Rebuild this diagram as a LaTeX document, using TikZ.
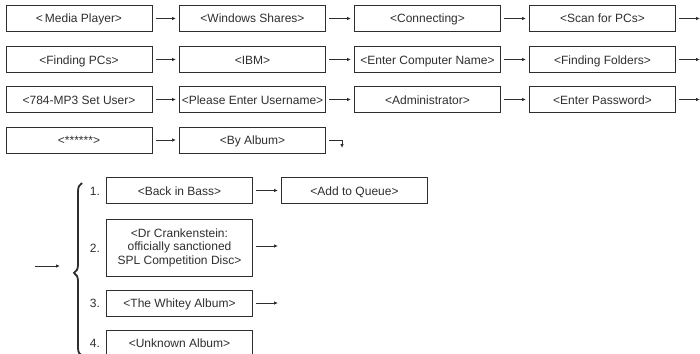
\documentclass[tikz,border=0pt]{standalone}
\usepackage{fontspec}
\setmainfont{Liberation Sans}
\usetikzlibrary{arrows.meta,decorations.pathreplacing}
\definecolor{ink}{HTML}{2E2E2E}
\begin{document}
\begin{tikzpicture}[x=1pt,y=-1pt,
  box/.style={draw=ink,line width=1pt,minimum width=146pt,minimum height=26pt,inner sep=1pt,text=ink,font=\fontsize{12}{13.5}\selectfont,align=center,text height=9pt,text depth=0pt},
  lbl/.style={text=ink,font=\fontsize{12}{13.5}\selectfont,inner sep=0pt,text height=9pt,text depth=0pt},
  arr/.style={draw=ink,line width=0.9pt,-{Latex[length=4pt,width=3.5pt]}}]
\useasboundingbox (0,0) rectangle (700,353);
\clip (0,0) rectangle (700,353);
% rows
\node[box] (a1) at (79,18.5) {<\,Media Player>};
\node[box] (a2) at (252.5,18.5) {<Windows Shares>};
\node[box] (a3) at (427.5,18.5) {<Connecting>};
\node[box] (a4) at (602.5,18.5) {<Scan for PCs>};
\node[box] (b1) at (79,59.5) {<Finding PCs>};
\node[box] (b2) at (252.5,59.5) {<IBM>};
\node[box] (b3) at (427.5,59.5) {<Enter Computer Name>};
\node[box] (b4) at (602.5,59.5) {<Finding Folders>};
\node[box] (c1) at (79,99.5) {<784-MP3 Set User>};
\node[box] (c2) at (252.5,99.5) {<Please Enter Username>};
\node[box] (c3) at (427.5,99.5) {<Administrator>};
\node[box] (c4) at (602.5,99.5) {<Enter Password>};
\node[box] (d1) at (79,140) {<******>};
\node[box] (d2) at (252.5,140) {<By Album>};
\coordinate (ae) at (700,18.5);
\coordinate (be) at (700,59.5);
\coordinate (ce) at (700,99.5);
\foreach \r in {a,b,c}{
  \draw[arr] ([xshift=3pt]\r1.east) -- ([xshift=-3pt]\r2.west);
  \draw[arr] ([xshift=3pt]\r2.east) -- ([xshift=-3pt]\r3.west);
  \draw[arr] ([xshift=3pt]\r3.east) -- ([xshift=-3pt]\r4.west);
  \draw[arr] ([xshift=3pt]\r4.east) -- (\r e);
}
\draw[arr] ([xshift=3pt]d1.east) -- ([xshift=-3pt]d2.west);
\coordinate (dh) at (342,148);
\draw[arr] ([xshift=3pt]d2.east) -| (dh);
% lower part
\coordinate (ls) at (35,266);
\coordinate (le) at (60,266);
\draw[arr] (ls) -- (le);
\coordinate (bt) at (82,183);
\coordinate (bb) at (82,356);
\draw[ink,line width=1.8pt,decorate,decoration={brace,amplitude=8pt,aspect=0.48}] (bb) -- (bt);
\node[box] (e1) at (179.5,190.5) {<Back in Bass>};
\node[box] (q1) at (354.5,190.5) {<Add to Queue>};
\node[box,minimum height=57pt,text height=,text depth=] (e2) at (179.5,247.5) {<Dr Crankenstein:\\officially sanctioned\\SPL Competition Disc>};
\node[box] (e3) at (179.5,303) {<The Whitey Album>};
\node[box] (e4) at (179.5,343) {<Unknown Album>};
\node[lbl] (n1) at (95,190.5) {1.};
\node[lbl] (n2) at (95,248) {2.};
\node[lbl] (n3) at (95,303) {3.};
\node[lbl] (n4) at (95,343) {4.};
\draw[arr] ([xshift=3pt]e1.east) -- ([xshift=-3pt]q1.west);
\coordinate (t2) at (278,246);
\coordinate (t3) at (278,303);
\draw[arr] ([xshift=3pt]e2.east |- t2) -- (t2);
\draw[arr] ([xshift=3pt]e3.east) -- (t3);
\end{tikzpicture}
\end{document}
